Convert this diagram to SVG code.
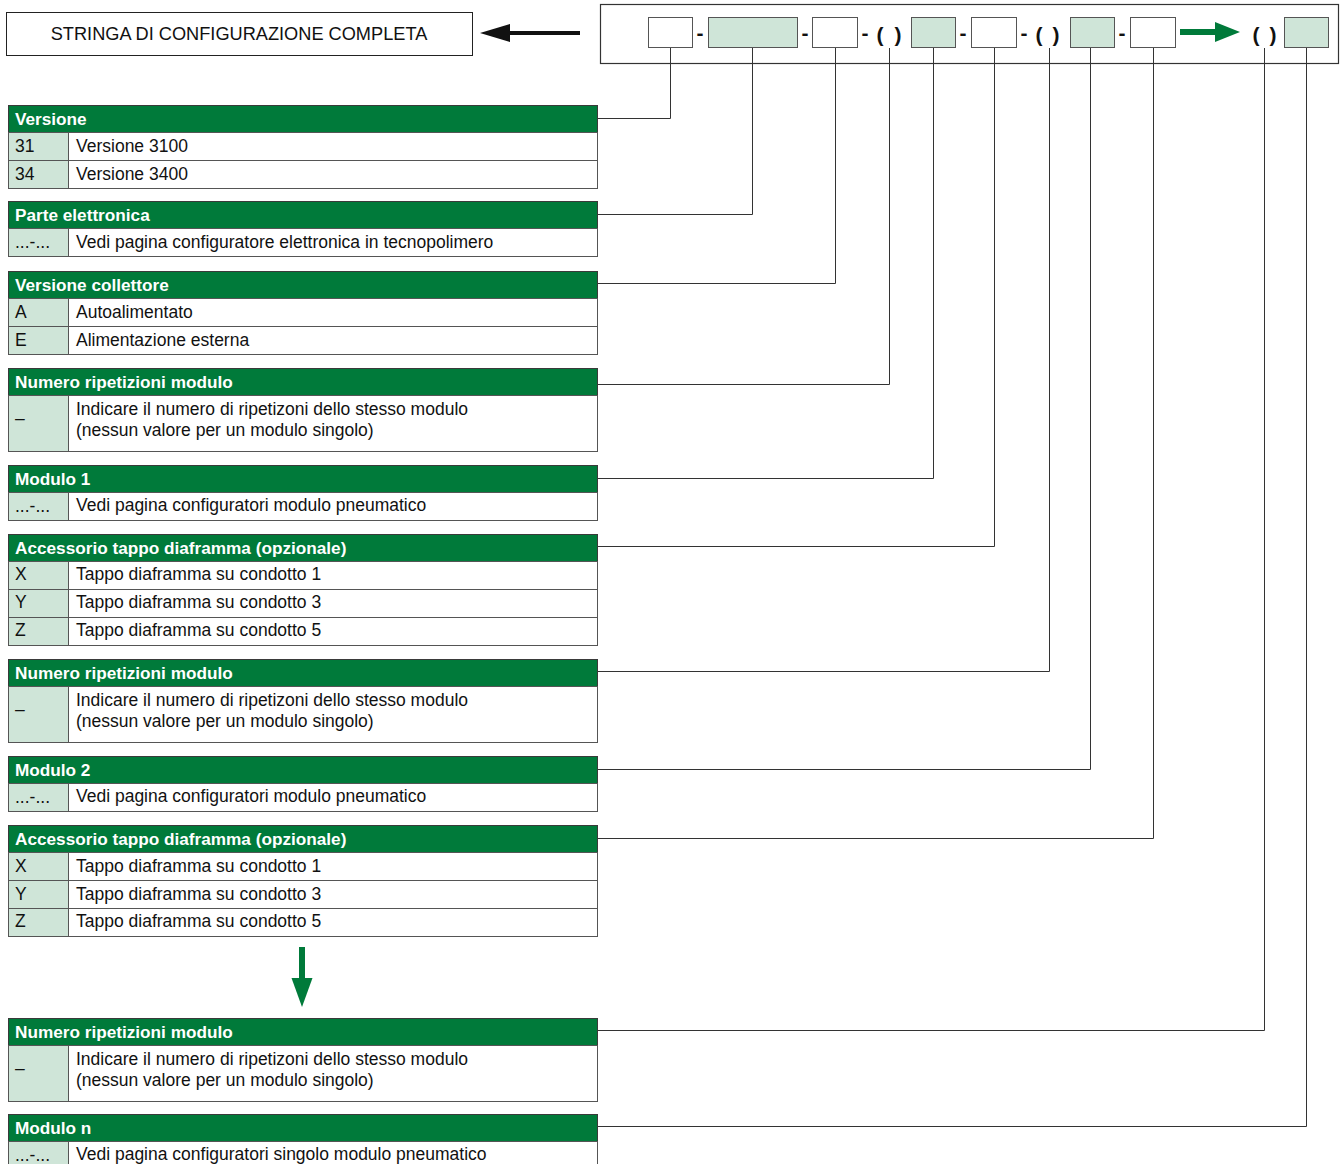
<svg xmlns="http://www.w3.org/2000/svg" width="1340" height="1164" viewBox="0 0 1340 1164">
<style>
.hdr{fill:#007a3a;stroke:#3a3a3a;stroke-width:1}
.key{fill:#cfe5d8;stroke:#555;stroke-width:1}
.cell{fill:#fff;stroke:#555;stroke-width:1}
.ht{font-family:"Liberation Sans",Arial,sans-serif;font-weight:bold;font-size:17.2px;fill:#fff}
.t{font-family:"Liberation Sans",Arial,sans-serif;font-size:17.5px;fill:#111}
.sym{font-family:"Liberation Sans",Arial,sans-serif;font-weight:bold;font-size:21px;fill:#111}
.conn{fill:none;stroke:#333;stroke-width:1}
.wb{fill:#fff;stroke:#555;stroke-width:1}
.gb{fill:#cfe5d8;stroke:#555;stroke-width:1}
</style>
<rect width="1340" height="1164" fill="#fff"/>

<g id="title">
<rect x="6.5" y="12.5" width="466" height="43" fill="#fff" stroke="#222" stroke-width="1"/>
<text x="239" y="40" text-anchor="middle" font-family="Liberation Sans, Arial, sans-serif" font-size="18.2" fill="#111">STRINGA DI CONFIGURAZIONE COMPLETA</text>
</g>
<g id="arrow-left">
<rect x="508" y="31" width="72" height="4" fill="#111"/>
<polygon points="480,33 510,24 510,42" fill="#111"/>
</g>

<g id="code-string">
<rect x="600.5" y="4.5" width="738" height="59" fill="#fff" stroke="#333" stroke-width="1.2"/>
<rect class="wb" x="648.5" y="17.5" width="44" height="30"/>
<text class="sym" x="700" y="40" text-anchor="middle">-</text>
<rect class="gb" x="708.5" y="17.5" width="89" height="30"/>
<text class="sym" x="805" y="40" text-anchor="middle">-</text>
<rect class="wb" x="812.5" y="17.5" width="45" height="30"/>
<text class="sym" x="865" y="40" text-anchor="middle">-</text>
<text class="sym" x="880" y="42" text-anchor="middle">(</text>
<text class="sym" x="898" y="42" text-anchor="middle">)</text>
<rect class="gb" x="911.5" y="17.5" width="44" height="30"/>
<text class="sym" x="963" y="40" text-anchor="middle">-</text>
<rect class="wb" x="971.5" y="17.5" width="45" height="30"/>
<text class="sym" x="1024" y="40" text-anchor="middle">-</text>
<text class="sym" x="1039" y="42" text-anchor="middle">(</text>
<text class="sym" x="1056" y="42" text-anchor="middle">)</text>
<rect class="gb" x="1070.5" y="17.5" width="44" height="30"/>
<text class="sym" x="1122" y="40" text-anchor="middle">-</text>
<rect class="wb" x="1130.5" y="17.5" width="45" height="30"/>
<rect x="1180" y="29" width="37" height="6" fill="#007a3a"/>
<polygon points="1240,32 1215,22 1215,42" fill="#007a3a"/>
<text class="sym" x="1256" y="42" text-anchor="middle">(</text>
<text class="sym" x="1273" y="42" text-anchor="middle">)</text>
<rect class="gb" x="1284.5" y="17.5" width="44" height="30"/>
</g>

<g id="connectors">
<polyline class="conn" points="597,118.5 670.5,118.5 670.5,48"/>
<polyline class="conn" points="597,214.5 752.5,214.5 752.5,48"/>
<polyline class="conn" points="597,283.5 835.5,283.5 835.5,48"/>
<polyline class="conn" points="597,384.5 889.5,384.5 889.5,48"/>
<polyline class="conn" points="597,478.5 933.5,478.5 933.5,48"/>
<polyline class="conn" points="597,546.5 994.5,546.5 994.5,48"/>
<polyline class="conn" points="597,671.5 1049.5,671.5 1049.5,48"/>
<polyline class="conn" points="597,769.5 1090.5,769.5 1090.5,48"/>
<polyline class="conn" points="597,838.5 1153.5,838.5 1153.5,48"/>
<polyline class="conn" points="597,1030.5 1264.5,1030.5 1264.5,48"/>
<polyline class="conn" points="597,1126.5 1306.5,1126.5 1306.5,48"/>
</g>

<g id="t-versione">
<rect class="hdr" x="8.5" y="105.5" width="589" height="27"/>
<text class="ht" x="15" y="125">Versione</text>
<rect class="key" x="8.5" y="132.5" width="60" height="28"/><rect class="cell" x="68.5" y="132.5" width="529" height="28"/>
<text class="t" x="15" y="152">31</text><text class="t" x="76" y="152">Versione 3100</text>
<rect class="key" x="8.5" y="160.5" width="60" height="28"/><rect class="cell" x="68.5" y="160.5" width="529" height="28"/>
<text class="t" x="15" y="180">34</text><text class="t" x="76" y="180">Versione 3400</text>
</g>

<g id="t-elettronica">
<rect class="hdr" x="8.5" y="201.5" width="589" height="27"/>
<text class="ht" x="15" y="221">Parte elettronica</text>
<rect class="key" x="8.5" y="228.5" width="60" height="28"/><rect class="cell" x="68.5" y="228.5" width="529" height="28"/>
<text class="t" x="15" y="248">...-...</text><text class="t" x="76" y="248">Vedi pagina configuratore elettronica in tecnopolimero</text>
</g>

<g id="t-collettore">
<rect class="hdr" x="8.5" y="271.5" width="589" height="27"/>
<text class="ht" x="15" y="291">Versione collettore</text>
<rect class="key" x="8.5" y="298.5" width="60" height="28"/><rect class="cell" x="68.5" y="298.5" width="529" height="28"/>
<text class="t" x="15" y="318">A</text><text class="t" x="76" y="318">Autoalimentato</text>
<rect class="key" x="8.5" y="326.5" width="60" height="28"/><rect class="cell" x="68.5" y="326.5" width="529" height="28"/>
<text class="t" x="15" y="346">E</text><text class="t" x="76" y="346">Alimentazione esterna</text>
</g>

<g id="t-rip1">
<rect class="hdr" x="8.5" y="368.5" width="589" height="27"/>
<text class="ht" x="15" y="388">Numero ripetizioni modulo</text>
<rect class="key" x="8.5" y="395.5" width="60" height="56"/><rect class="cell" x="68.5" y="395.5" width="529" height="56"/>
<text class="t" x="15" y="424">–</text>
<text class="t" x="76" y="415">Indicare il numero di ripetizoni dello stesso modulo</text>
<text class="t" x="76" y="436">(nessun valore per un modulo singolo)</text>
</g>

<g id="t-modulo1">
<rect class="hdr" x="8.5" y="465.5" width="589" height="27"/>
<text class="ht" x="15" y="485">Modulo 1</text>
<rect class="key" x="8.5" y="492.5" width="60" height="28"/><rect class="cell" x="68.5" y="492.5" width="529" height="28"/>
<text class="t" x="15" y="512">...-...</text><text class="t" x="76" y="511">Vedi pagina configuratori modulo pneumatico</text>
</g>

<g id="t-acc1">
<rect class="hdr" x="8.5" y="534.5" width="589" height="27"/>
<text class="ht" x="15" y="554">Accessorio tappo diaframma (opzionale)</text>
<rect class="key" x="8.5" y="561.5" width="60" height="28"/><rect class="cell" x="68.5" y="561.5" width="529" height="28"/>
<text class="t" x="15" y="580">X</text><text class="t" x="76" y="580">Tappo diaframma su condotto 1</text>
<rect class="key" x="8.5" y="589.5" width="60" height="28"/><rect class="cell" x="68.5" y="589.5" width="529" height="28"/>
<text class="t" x="15" y="608">Y</text><text class="t" x="76" y="608">Tappo diaframma su condotto 3</text>
<rect class="key" x="8.5" y="617.5" width="60" height="28"/><rect class="cell" x="68.5" y="617.5" width="529" height="28"/>
<text class="t" x="15" y="636">Z</text><text class="t" x="76" y="636">Tappo diaframma su condotto 5</text>
</g>

<g id="t-rip2">
<rect class="hdr" x="8.5" y="659.5" width="589" height="27"/>
<text class="ht" x="15" y="679">Numero ripetizioni modulo</text>
<rect class="key" x="8.5" y="686.5" width="60" height="56"/><rect class="cell" x="68.5" y="686.5" width="529" height="56"/>
<text class="t" x="15" y="715">–</text>
<text class="t" x="76" y="706">Indicare il numero di ripetizoni dello stesso modulo</text>
<text class="t" x="76" y="727">(nessun valore per un modulo singolo)</text>
</g>

<g id="t-modulo2">
<rect class="hdr" x="8.5" y="756.5" width="589" height="27"/>
<text class="ht" x="15" y="776">Modulo 2</text>
<rect class="key" x="8.5" y="783.5" width="60" height="28"/><rect class="cell" x="68.5" y="783.5" width="529" height="28"/>
<text class="t" x="15" y="803">...-...</text><text class="t" x="76" y="802">Vedi pagina configuratori modulo pneumatico</text>
</g>

<g id="t-acc2">
<rect class="hdr" x="8.5" y="825.5" width="589" height="27"/>
<text class="ht" x="15" y="845">Accessorio tappo diaframma (opzionale)</text>
<rect class="key" x="8.5" y="852.5" width="60" height="28"/><rect class="cell" x="68.5" y="852.5" width="529" height="28"/>
<text class="t" x="15" y="872">X</text><text class="t" x="76" y="872">Tappo diaframma su condotto 1</text>
<rect class="key" x="8.5" y="880.5" width="60" height="28"/><rect class="cell" x="68.5" y="880.5" width="529" height="28"/>
<text class="t" x="15" y="900">Y</text><text class="t" x="76" y="900">Tappo diaframma su condotto 3</text>
<rect class="key" x="8.5" y="908.5" width="60" height="28"/><rect class="cell" x="68.5" y="908.5" width="529" height="28"/>
<text class="t" x="15" y="927">Z</text><text class="t" x="76" y="927">Tappo diaframma su condotto 5</text>
</g>

<g id="arrow-down">
<rect x="299" y="947" width="6" height="33" fill="#007a3a"/>
<polygon points="291.5,978 312.5,978 302,1007" fill="#007a3a"/>
</g>

<g id="t-rip3">
<rect class="hdr" x="8.5" y="1018.5" width="589" height="27"/>
<text class="ht" x="15" y="1038">Numero ripetizioni modulo</text>
<rect class="key" x="8.5" y="1045.5" width="60" height="56"/><rect class="cell" x="68.5" y="1045.5" width="529" height="56"/>
<text class="t" x="15" y="1074">–</text>
<text class="t" x="76" y="1065">Indicare il numero di ripetizoni dello stesso modulo</text>
<text class="t" x="76" y="1086">(nessun valore per un modulo singolo)</text>
</g>

<g id="t-modulon">
<rect class="hdr" x="8.5" y="1114.5" width="589" height="27"/>
<text class="ht" x="15" y="1134">Modulo n</text>
<rect class="key" x="8.5" y="1141.5" width="60" height="28"/><rect class="cell" x="68.5" y="1141.5" width="529" height="28"/>
<text class="t" x="15" y="1161">...-...</text><text class="t" x="76" y="1160">Vedi pagina configuratori singolo modulo pneumatico</text>
</g>
</svg>
